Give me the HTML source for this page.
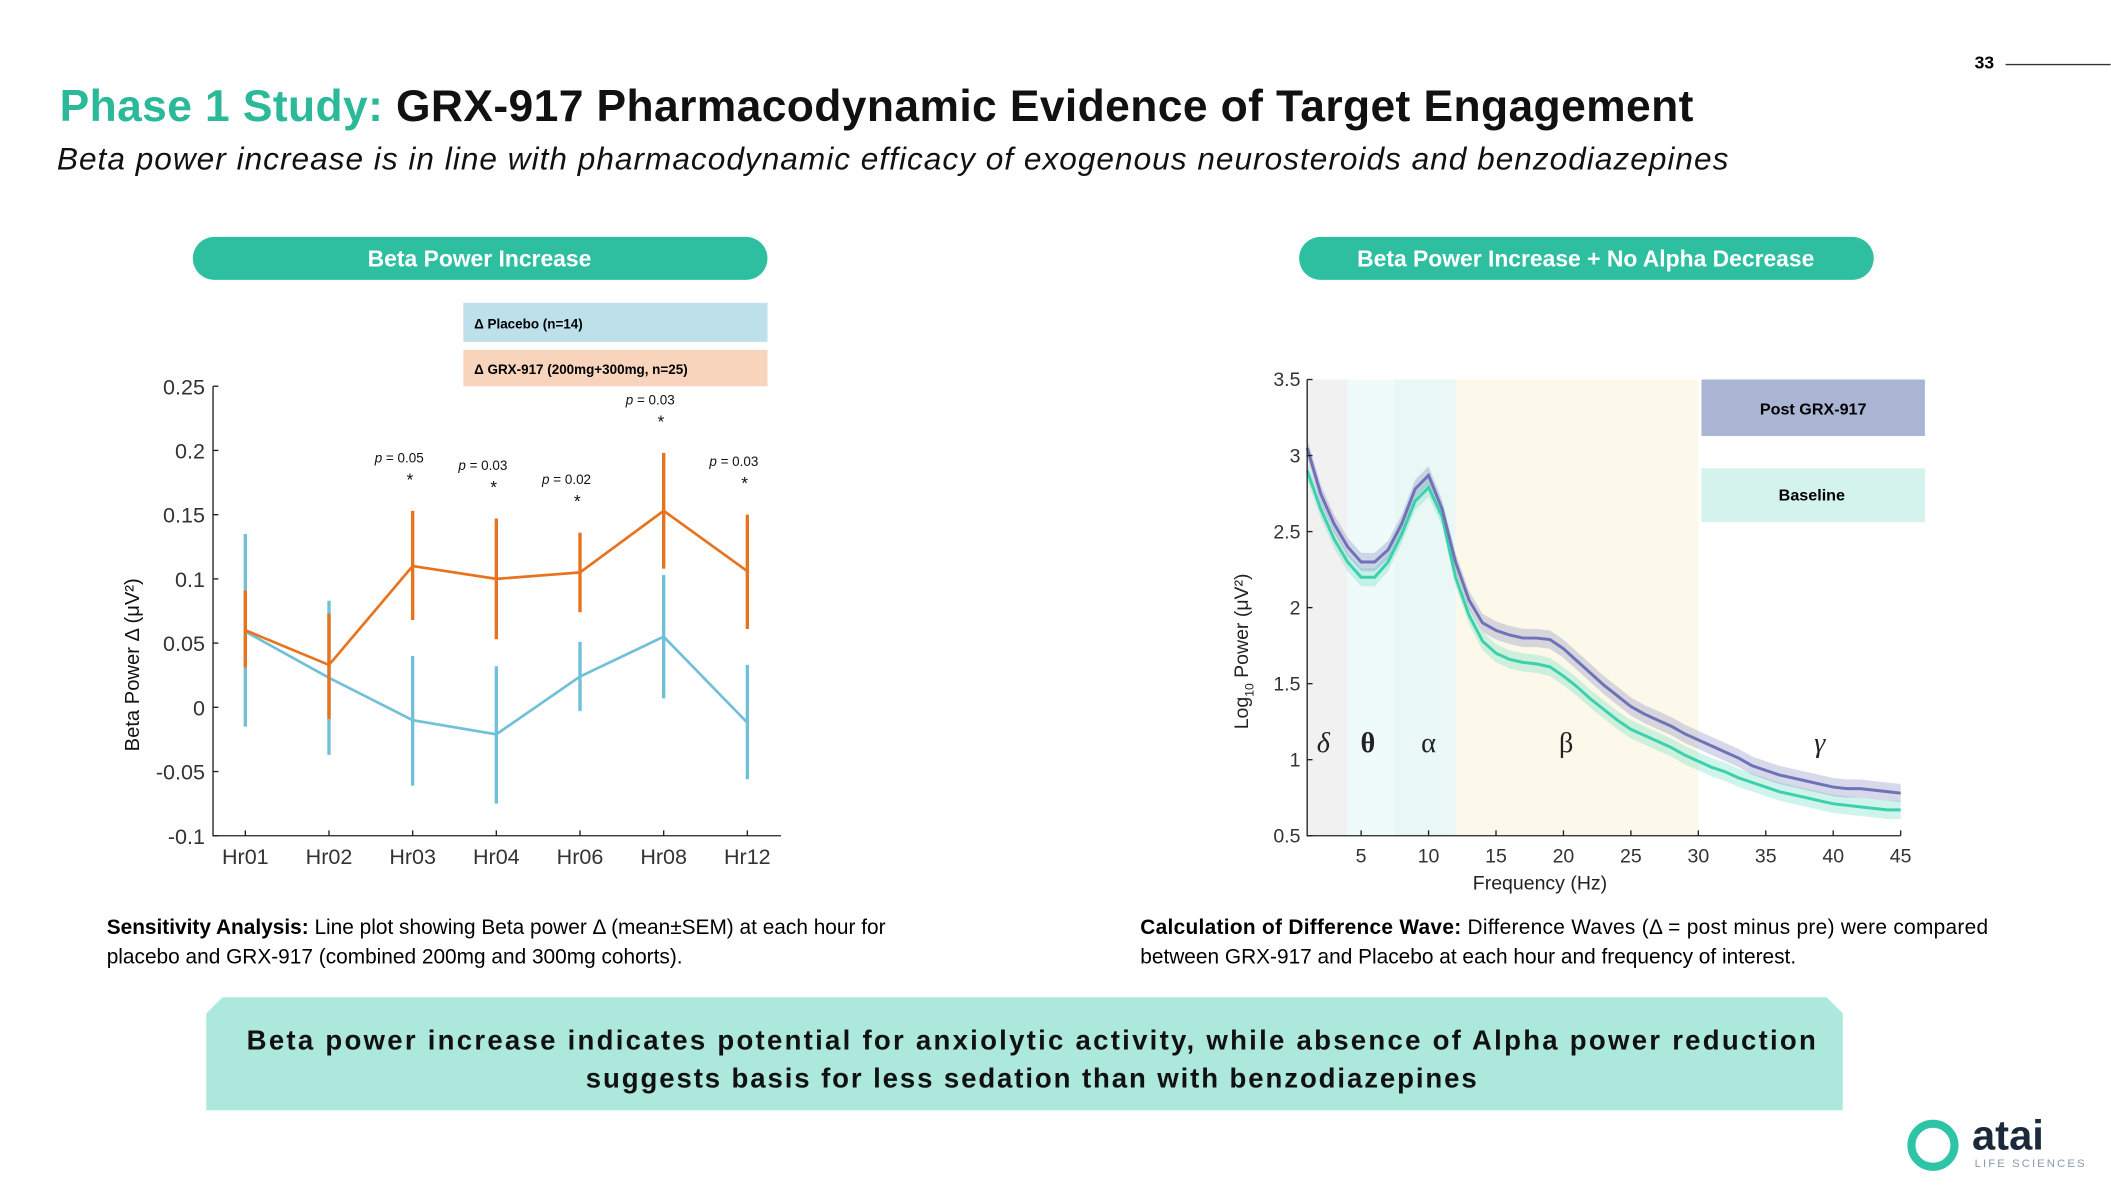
<!DOCTYPE html>
<html><head><meta charset="utf-8"><style>
html,body{margin:0;padding:0;background:#fff;overflow:hidden}
svg{display:block;font-family:"Liberation Sans",sans-serif}
</style></head><body>
<svg id="page" width="2111" height="1187" viewBox="0 0 1568 882">
<text x="1467" y="51" font-size="13" font-weight="bold">33</text>
<line x1="1490" y1="48" x2="1568" y2="48" stroke="#333" stroke-width="1"/>
<text x="44" y="90" font-size="33" font-weight="bold" textLength="1214" lengthAdjust="spacing"><tspan fill="#2bb99a">Phase 1 Study: </tspan><tspan fill="#111">GRX-917 Pharmacodynamic Evidence of Target Engagement</tspan></text>
<text x="42" y="126" font-size="23.5" font-style="italic" fill="#111" textLength="1242" lengthAdjust="spacing">Beta power increase is in line with pharmacodynamic efficacy of exogenous neurosteroids and benzodiazepines</text>

<rect x="143" y="176" width="427" height="32" rx="16" fill="#2ebfa0"/>
<text x="356" y="198" font-size="17" font-weight="bold" fill="#fff" text-anchor="middle">Beta Power Increase</text>
<rect x="965" y="176" width="427" height="32" rx="16" fill="#2ebfa0"/>
<text x="1178" y="198" font-size="17" font-weight="bold" fill="#fff" text-anchor="middle">Beta Power Increase + No Alpha Decrease</text>

<rect x="344" y="225" width="226" height="29" fill="#bde0ea"/>
<text x="352" y="244" font-size="10" font-weight="bold">Δ Placebo (n=14)</text>
<rect x="344" y="260" width="226" height="27" fill="#f8d4bc"/>
<text x="352" y="278" font-size="10" font-weight="bold">Δ GRX-917 (200mg+300mg, n=25)</text>

<g id="left-chart"></g>
<g id="right-chart"></g>

<text x="79" y="694" font-size="15.5"><tspan font-weight="bold">Sensitivity Analysis:</tspan> Line plot showing Beta power Δ (mean±SEM) at each hour for</text>
<text x="79" y="716" font-size="15.5">placebo and GRX-917 (combined 200mg and 300mg cohorts).</text>
<text x="847" y="694" font-size="15.5" textLength="630" lengthAdjust="spacing"><tspan font-weight="bold">Calculation of Difference Wave:</tspan> Difference Waves (Δ = post minus pre) were compared</text>
<text x="847" y="716" font-size="15.5">between GRX-917 and Placebo at each hour and frequency of interest.</text>

<polygon points="165,741 1357,741 1369,753 1369,825 153,825 153,753" fill="#ade8dc"/>
<text x="766" y="780" font-size="20.5" font-weight="bold" text-anchor="middle" textLength="1166" lengthAdjust="spacing" fill="#111">Beta power increase indicates potential for anxiolytic activity, while absence of Alpha power reduction</text>
<text x="766" y="808" font-size="20.5" font-weight="bold" text-anchor="middle" textLength="662" lengthAdjust="spacing" fill="#111">suggests basis for less sedation than with benzodiazepines</text>

<g>
<circle cx="1436" cy="851" r="16" fill="none" stroke="#2ec4a6" stroke-width="6"/>
<text x="1465" y="854" font-size="31" font-weight="bold" fill="#1a2a3a">atai</text>
<text x="1467" y="867" font-size="8.5" fill="#8a9aa8" letter-spacing="1.5">LIFE SCIENCES</text>
</g>
</svg>
<script>
var NS="http://www.w3.org/2000/svg";
function mk(p,t,a,txt){var e=document.createElementNS(NS,t);for(var k in a)e.setAttribute(k,a[k]);if(txt!==undefined)e.textContent=txt;p.appendChild(e);return e;}

// ---- Left chart data
var hours=["Hr01","Hr02","Hr03","Hr04","Hr06","Hr08","Hr12"];
var grxMean=[0.060,0.033,0.110,0.100,0.105,0.153,0.106];
var grxLo=[0.031,-0.009,0.068,0.053,0.074,0.108,0.061];
var grxHi=[0.091,0.073,0.153,0.147,0.136,0.198,0.150];
var plcMean=[0.059,0.023,-0.010,-0.021,0.024,0.055,-0.012];
var plcLo=[-0.015,-0.037,-0.061,-0.075,-0.003,0.007,-0.056];
var plcHi=[0.135,0.083,0.040,0.032,0.051,0.103,0.033];
var leftTicks=[0.25,0.2,0.15,0.1,0.05,0,-0.05,-0.1];
var leftTickLabels=["0.25","0.2","0.15","0.1","0.05","0","-0.05","-0.1"];
var pLabels=["","","p = 0.05","p = 0.03","p = 0.02","p = 0.03","p = 0.03"];

// ---- Right chart data
var freqs=[];for(var f=1;f<=45;f++)freqs.push(f);
var postPow=[3.05,2.75,2.55,2.4,2.3,2.3,2.38,2.55,2.78,2.87,2.65,2.3,2.05,1.9,1.85,1.82,1.8,1.8,1.79,1.73,1.65,1.57,1.49,1.42,1.35,1.3,1.26,1.22,1.17,1.13,1.09,1.05,1.01,0.96,0.93,0.9,0.88,0.86,0.84,0.82,0.81,0.81,0.8,0.79,0.78];
var basePow=[2.9,2.65,2.45,2.3,2.2,2.2,2.3,2.48,2.7,2.79,2.6,2.2,1.95,1.78,1.7,1.66,1.64,1.63,1.61,1.55,1.48,1.4,1.33,1.26,1.2,1.16,1.12,1.08,1.03,0.99,0.95,0.92,0.88,0.85,0.82,0.79,0.77,0.75,0.73,0.71,0.7,0.69,0.68,0.67,0.67];
var semBand=0.06;
var rightYTicks=[3.5,3,2.5,2,1.5,1,0.5];
var rightXTicks=[5,10,15,20,25,30,35,40,45];
var bandEdges=[1,4,7.5,12,30];
var bandNames=["δ","θ","α","β","γ"];
var bandLabelHz=[2.2,5.5,10,20.2,39];

// ---- Left chart draw
(function(){
 var g=document.getElementById('left-chart');
 var x0=158,x1=580,y0=621,y1=287;
 function X(i){return 182+i*62.17;}
 function Y(v){return y0-(v-(-0.1))/(0.35)*(y0-y1);}
 var ax=mk(g,'path',{d:'M'+x0+' '+y1+'V'+y0+'H'+x1,fill:'none',stroke:'#222','stroke-width':1});
 
 
 leftTicks.forEach(function(v,i){
  mk(g,'line',{x1:x0,x2:x0+4,y1:Y(v),y2:Y(v),stroke:'#222'});
  var t=mk(g,'text',{x:x0-6,y:Y(v)+6,'font-size':16,'text-anchor':'end',fill:'#333'},leftTickLabels[i]);
  
  
 });
 hours.forEach(function(h,i){
  mk(g,'line',{x1:X(i),x2:X(i),y1:y0,y2:y0-4,stroke:'#222'});
  var t=mk(g,'text',{x:X(i),y:y0+21,'font-size':16,'text-anchor':'middle',fill:'#333'},h);
  
  
 });
 var yt=mk(g,'text',{x:0,y:0,'font-size':15,'text-anchor':'middle',transform:'translate(103,494) rotate(-90)',fill:'#111'},'Beta Power Δ (μV²)');
 
 
 function series(m,lo,hi,col,name){
  m.forEach(function(v,i){
   var e=mk(g,'line',{x1:X(i),x2:X(i),y1:Y(lo[i]),y2:Y(hi[i]),stroke:col,'stroke-width':2.5});
   
   
  });
  var d=m.map(function(v,i){return (i?'L':'M')+X(i)+' '+Y(v);}).join('');
  var l=mk(g,'path',{d:d,fill:'none',stroke:col,'stroke-width':2});
  
  
 }
 series(plcMean,plcLo,plcHi,'#72bfd8','placebo');
 series(grxMean,grxLo,grxHi,'#e8731f','grx917');
 pLabels.forEach(function(p,i){
  if(!p)return;
  var ty=Y(grxHi[i])-24;
  var t=mk(g,'text',{x:X(i)-10,y:ty-12,'font-size':10,'text-anchor':'middle',fill:'#111'});
  
  
  mk(t,'tspan',{'font-style':'italic'},'p');
  mk(t,'tspan',{},p.slice(1));
  var s=mk(g,'text',{x:X(i)-2,y:ty+5,'font-size':13,'text-anchor':'middle',fill:'#111'},'*');
  
  
 });
})();

// ---- Right chart draw
(function(){
 var g=document.getElementById('right-chart');
 var x0=971,x1=1412,y0=621,y1=282;
 function X(f){return 971+(f-1)*(x1-x0)/44;}
 function Y(v){return y0-(v-0.5)/3*(y0-y1);}
 var bandCols=['#f1f1f1','#effafa','#e9f8f4','#fdf9ea'];
 for(var i=0;i<4;i++){
  var r=mk(g,'rect',{x:X(bandEdges[i]),y:y1,width:X(bandEdges[i+1])-X(bandEdges[i]),height:y0-y1,fill:bandCols[i]});
  
  
 }
 function area(vals,col,name){
  var up=vals.map(function(v,i){return (i?'L':'M')+X(freqs[i])+' '+Y(v+semBand);}).join('');
  var dn=vals.slice().reverse().map(function(v,j){var i=vals.length-1-j;return 'L'+X(freqs[i])+' '+Y(v-semBand);}).join('');
  var a=mk(g,'path',{d:up+dn+'Z',fill:col,opacity:0.3});
  
  
 }
 function line(vals,col,name){
  var d=vals.map(function(v,i){return (i?'L':'M')+X(freqs[i])+' '+Y(v);}).join('');
  var l=mk(g,'path',{d:d,fill:'none',stroke:col,'stroke-width':2.2});
  
  
 }
 area(basePow,'#5fdcc0','baseline');
 area(postPow,'#7a82bb','post-grx917');
 line(basePow,'#3dd0ac','baseline');
 line(postPow,'#6f72b8','post-grx917');
 mk(g,'path',{d:'M'+x0+' '+y1+'V'+y0+'H'+x1,fill:'none',stroke:'#222','stroke-width':1});
 rightYTicks.forEach(function(v){
  mk(g,'line',{x1:x0,x2:x0+4,y1:Y(v),y2:Y(v),stroke:'#222'});
  var t=mk(g,'text',{x:x0-5,y:Y(v)+5,'font-size':14.5,'text-anchor':'end',fill:'#333'},String(v));
  
  
 });
 rightXTicks.forEach(function(v){
  mk(g,'line',{x1:X(v),x2:X(v),y1:y0,y2:y0-4,stroke:'#222'});
  var t=mk(g,'text',{x:X(v),y:y0+20,'font-size':14.5,'text-anchor':'middle',fill:'#333'},String(v));
  
  
 });
 bandNames.forEach(function(n,i){
  var t=mk(g,'text',{x:X(bandLabelHz[i]),y:Y(1.05),'font-size':21,'text-anchor':'middle','font-family':'Liberation Serif,serif','font-style':(i==0||i==4)?'italic':'normal','font-weight':i==1?'bold':'normal',fill:'#222'},n);
  
  
 });
 var xt=mk(g,'text',{x:1144,y:661,'font-size':14.5,'text-anchor':'middle',fill:'#222'},'Frequency (Hz)');
 
 
 var yt=mk(g,'text',{x:0,y:0,'font-size':14.5,'text-anchor':'middle',transform:'translate(927,484) rotate(-90)',fill:'#222'});
 
 
 mk(yt,'tspan',{},'Log');
 mk(yt,'tspan',{'font-size':9,dy:4},'10');
 mk(yt,'tspan',{dy:-4},' Power (μV²)');
 var l1=mk(g,'rect',{x:1264,y:282,width:166,height:42,fill:'#a9b5d3'});
 
 
 mk(g,'text',{x:1347,y:308,'font-size':12,'font-weight':'bold','text-anchor':'middle'},'Post GRX-917');
 var l2=mk(g,'rect',{x:1264,y:348,width:166,height:40,fill:'#d3f3ec'});
 
 
 mk(g,'text',{x:1346,y:372,'font-size':12,'font-weight':'bold','text-anchor':'middle'},'Baseline');
})();
</script>
</body></html>
